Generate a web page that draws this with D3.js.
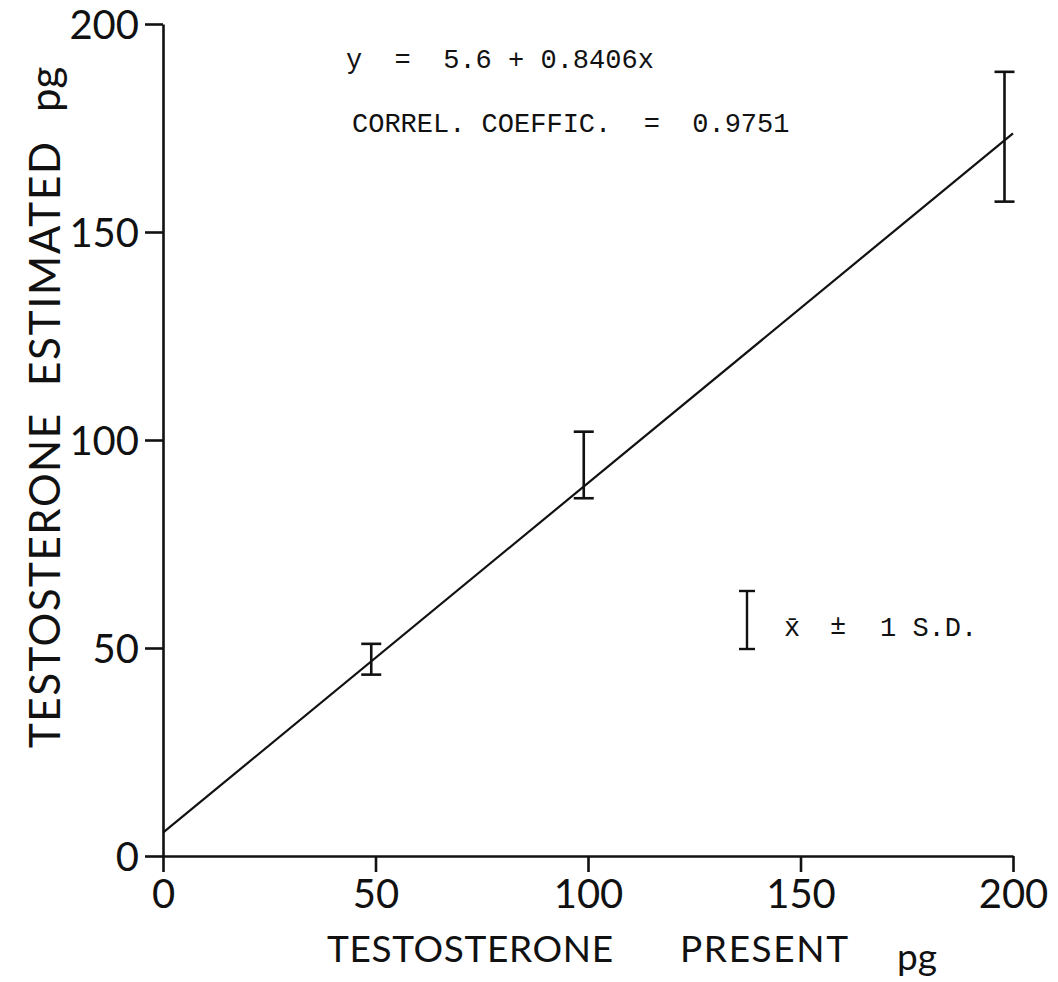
<!DOCTYPE html>
<html>
<head>
<meta charset="utf-8">
<script src="https://cdn.jsdelivr.net/npm/d3@7/dist/d3.min.js"></script>
<style>
  html, body { margin: 0; padding: 0; background: #fff; }
  svg { display: block; }
  .tick text { font-family: Lato, "Noto Sans", sans-serif; font-size: 40px; fill: #111; }
  .title { font-family: Lato, "Noto Sans", sans-serif; font-size: 37px; fill: #111; }
  .ytitle { font-family: Lato, "Noto Sans", sans-serif; font-size: 42px; fill: #111; }
  .mono { font-family: "Liberation Mono", "DejaVu Sans Mono", monospace; font-size: 27px; fill: #111; }
</style>
</head>
<body>
<script>
// Recovery of testosterone: amount present vs. amount estimated (pg)
const presentPg   = [49, 99, 198];          // x positions of the replicate groups
const meanPg      = [47.3, 94.0, 172.9];    // mean estimated
const sdPg        = [3.7, 8.0, 15.6];       // 1 S.D.
const intercept   = 5.6;
const slope       = 0.8406;
const correl      = 0.9751;
const xTicks      = [0, 50, 100, 150, 200];
const yTicks      = [0, 50, 100, 150, 200];

const W = 1058, H = 982;
const svg = d3.select("body").append("svg").attr("width", W).attr("height", H);

const x = d3.scaleLinear().domain([0, 200]).range([163, 1013]);
const y = d3.scaleLinear().domain([0, 200]).range([856, 24]);

// axes
const yAxis = svg.append("g")
  .attr("transform", `translate(${x(0)},0)`)
  .call(d3.axisLeft(y).tickValues(yTicks).tickSize(18).tickSizeOuter(0).tickPadding(6).tickFormat(d3.format("d")));
const xAxis = svg.append("g")
  .attr("transform", `translate(0,${y(0)})`)
  .call(d3.axisBottom(x).tickValues(xTicks).tickSize(16).tickSizeOuter(0).tickPadding(8).tickFormat(d3.format("d")));
[xAxis, yAxis].forEach(g => {
  g.select(".domain").attr("stroke", "#111").attr("stroke-width", 2.6);
  g.selectAll(".tick line").attr("stroke", "#111").attr("stroke-width", 2.6);
});
yAxis.selectAll(".tick text").attr("dy", "0.36em");

// regression line
const fit = v => intercept + slope * v;
svg.append("line")
  .attr("x1", x(0)).attr("y1", y(fit(0)))
  .attr("x2", x(200)).attr("y2", y(fit(200)))
  .attr("stroke", "#111").attr("stroke-width", 2.2);

// error bars: mean ± 1 S.D.
const cap = 10;
const bars = svg.append("g").attr("stroke", "#111").attr("stroke-width", 2.6);
presentPg.forEach((p, i) => {
  const cx = x(p), top = y(meanPg[i] + sdPg[i]), bot = y(meanPg[i] - sdPg[i]);
  bars.append("line").attr("x1", cx).attr("x2", cx).attr("y1", top).attr("y2", bot);
  bars.append("line").attr("x1", cx - cap).attr("x2", cx + cap).attr("y1", top).attr("y2", top);
  bars.append("line").attr("x1", cx - cap).attr("x2", cx + cap).attr("y1", bot).attr("y2", bot);
});

// key
const kx = 747, kt = 591, kb = 649;
const key = svg.append("g").attr("stroke", "#111").attr("stroke-width", 2.4);
key.append("line").attr("x1", kx).attr("x2", kx).attr("y1", kt).attr("y2", kb);
key.append("line").attr("x1", kx - 8).attr("x2", kx + 8).attr("y1", kt).attr("y2", kt);
key.append("line").attr("x1", kx - 8).attr("x2", kx + 8).attr("y1", kb).attr("y2", kb);
svg.append("text").attr("class", "mono").attr("x", 784).attr("y", 636).text("x\u0304");
svg.append("text").attr("class", "mono").attr("x", 830).attr("y", 634).text("\u00b1");
svg.append("text").attr("class", "mono").attr("x", 880).attr("y", 636).text("1 S.D.");

// regression annotations
svg.append("text").attr("class", "mono").attr("x", 346).attr("y", 68)
  .style("white-space", "pre")
  .text(`y  =  ${intercept} + ${slope}x`);
svg.append("text").attr("class", "mono").attr("x", 352).attr("y", 132)
  .style("white-space", "pre")
  .text(`CORREL. COEFFIC.  =  ${correl}`);

// axis titles
const xAxisTitle = svg.append("g");
xAxisTitle.append("text").attr("class", "title").attr("x", 327).attr("y", 962).attr("textLength", 286).text("TESTOSTERONE");
xAxisTitle.append("text").attr("class", "title").attr("x", 680).attr("y", 962).attr("textLength", 168).text("PRESENT");
xAxisTitle.append("text").attr("class", "title").attr("x", 897).attr("y", 970).text("pg");

const yt = svg.append("g").attr("transform", "translate(60,0) rotate(-90)");
yt.append("text").attr("class", "ytitle").attr("x", -748).attr("y", 0).attr("textLength", 334).text("TESTOSTERONE");
yt.append("text").attr("class", "ytitle").attr("x", -386).attr("y", 0).attr("textLength", 244).text("ESTIMATED");
yt.append("text").attr("class", "ytitle").attr("x", -112).attr("y", 0).text("pg");
</script>
</body>
</html>
